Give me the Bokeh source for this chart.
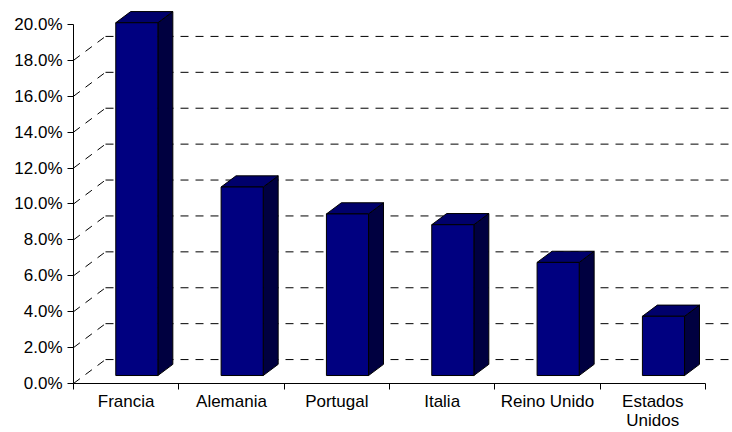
from bokeh.plotting import figure
from bokeh.models import Range1d, FixedTicker
from bokeh.embed import file_html
from bokeh.resources import INLINE

# ---- data ----
countries = ["Francia", "Alemania", "Portugal", "Italia", "Reino Unido", "Estados\nUnidos"]
values = [19.65, 10.5, 9.0, 8.4, 6.3, 3.3]
y_ticks = [0, 2, 4, 6, 8, 10, 12, 14, 16, 18, 20]
y_labels = ["0.0%", "2.0%", "4.0%", "6.0%", "8.0%", "10.0%", "12.0%",
            "14.0%", "16.0%", "18.0%", "20.0%"]

# ---- 3D geometry (data units) ----
CAT_PX = 105.33          # pixels per category
PCT_PX = 18.0            # pixels per percent
DX = 32 / CAT_PX         # depth offset along x (category units)
DY = 24 / PCT_PX         # depth offset along y (percent units)
F0, F1 = 1 / 3, 0.8      # bar front/back depth fractions
BAR_W = 0.4
GAP = 0.3

FONT = "Liberation Sans"

p = figure(width=732, height=432,
           x_range=Range1d(-0.5, -0.5 + (732 - 73) / CAT_PX),
           y_range=Range1d(0, 384 / PCT_PX),
           output_backend="svg", toolbar_location=None,
           min_border_left=73, min_border_right=0,
           min_border_top=0, min_border_bottom=48)
p.outline_line_color = None
p.xgrid.visible = False
p.ygrid.visible = False
p.background_fill_color = "white"
p.border_fill_color = "white"

n = len(countries)
x0 = -0.5

# back-wall gridlines and diagonal lines on the side wall
grid_t = [t for t in y_ticks if t < 20]
p.segment(x0=[x0 + DX] * len(grid_t), y0=[t + DY for t in grid_t],
          x1=[x0 + n + DX] * len(grid_t), y1=[t + DY for t in grid_t],
          line_color="black", line_width=1, line_dash="8 7")
p.segment(x0=[x0] * len(grid_t), y0=grid_t,
          x1=[x0 + DX] * len(grid_t), y1=[t + DY for t in grid_t],
          line_color="black", line_width=1, line_dash="8 7")

# bars
lefts, rights, bottoms, tops = [], [], [], []
side_xs, side_ys, top_xs, top_ys = [], [], [], []
ddx = (F1 - F0) * DX
ddy = (F1 - F0) * DY
for i, v in enumerate(values):
    l = x0 + i + GAP + F0 * DX
    r = l + BAR_W
    b = F0 * DY
    t = v + F0 * DY
    lefts.append(l); rights.append(r); bottoms.append(b); tops.append(t)
    side_xs.append([r, r + ddx, r + ddx, r])
    side_ys.append([b, b + ddy, t + ddy, t])
    top_xs.append([l, r, r + ddx, l + ddx])
    top_ys.append([t, t, t + ddy, t + ddy])

p.patches(side_xs, side_ys, fill_color="#000040", line_color="black", line_width=1)
p.patches(top_xs, top_ys, fill_color="#00006B", line_color="black", line_width=1)
p.quad(left=lefts, right=rights, bottom=bottoms, top=tops,
       fill_color="#000080", line_color="black", line_width=1)

# y axis
ya = p.yaxis[0]
ya.bounds = (0, 20)
ya.ticker = FixedTicker(ticks=y_ticks, minor_ticks=[])
ya.major_label_overrides = {t: s for t, s in zip(y_ticks, y_labels)}
ya.major_tick_in = 0
ya.major_tick_out = 6
ya.major_label_standoff = 5
ya.axis_line_color = "black"
ya.major_tick_line_color = "black"
ya.major_label_text_font = FONT
ya.major_label_text_font_size = "17px"
ya.major_label_text_color = "black"

# x axis
xa = p.xaxis[0]
xa.bounds = (x0, x0 + n)
xa.ticker = FixedTicker(ticks=list(range(n)),
                        minor_ticks=[x0 + k for k in range(n + 1)])
xa.major_label_overrides = {i: c for i, c in enumerate(countries)}
xa.major_tick_line_color = None
xa.major_tick_in = 0
xa.major_tick_out = 6
xa.minor_tick_in = 0
xa.minor_tick_out = 6
xa.minor_tick_line_color = "black"
xa.axis_line_color = "black"
xa.major_label_standoff = 2
xa.major_label_text_font = FONT
xa.major_label_text_font_size = "17px"
xa.major_label_text_color = "black"
xa.major_label_text_line_height = 1.0

open("out.html", "w").write(file_html(p, INLINE))
